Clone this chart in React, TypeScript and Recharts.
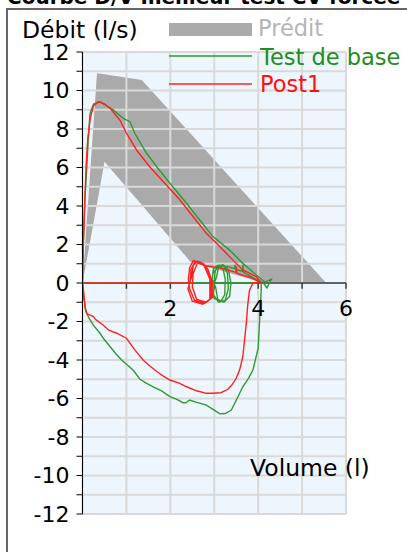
import React from "react";
import {
  ComposedChart,
  Area,
  Line,
  XAxis,
  YAxis,
  CartesianGrid,
  ReferenceLine,
  ReferenceDot,
  Legend,
} from "recharts";

const FONT = "DejaVu Sans";

// predicted zone: volume (l) with [lower, upper] flow (l/s)
const predVol = [0, 0.33, 0.5, 1.35, 2.46, 4.05, 5.55];
const predLow = [0, 4.1, 6.3, 4.05, 1.1, 0.05, 0];
const predHigh = [0, 10.9, 10.85, 10.55, 7.76, 3.77, 0];

// Test de base (green), [volume, flow]
const baseTidal = [
  [0, 0], [4.0, 0], [3.0, 0], [3.02, 0.6], [3.1, 0.92], [3.22, 0.9], [3.3, 0.5], [3.32, -0.3],
  [3.25, -0.9], [3.1, -1.0], [2.98, -0.6], [3.0, 0], [3.05, 0.3], [3.1, 0.85], [3.2, 0.95],
  [3.32, 0.7], [3.38, 0], [3.35, -0.7], [3.22, -1.0], [3.08, -0.85], [3.03, -0.2], [2.95, 0.2],
  [2.98, 0.75], [3.08, 0.9], [3.2, 0.75], [3.25, 0.2], [3.24, -0.6], [3.15, -0.95], [3.0, -0.8],
  [2.93, -0.2], [2.97, 0.5], [3.1, 0.9],
];
const baseSlow = [
  [3.3, 0.85], [3.47, 0.75], [3.47, 0.95], [3.5, 0.7], [3.65, 0.6], [3.65, 0.94], [3.67, 0.55],
  [3.9, 0.25], [4.07, 0.05],
];
const baseInsp = [
  [4.07, -0.36], [4.05, -1.2], [4.03, -2.1], [4.0, -3.39], [3.88, -4.52], [3.78, -4.95],
  [3.65, -5.39], [3.52, -6.0], [3.39, -6.6], [3.25, -6.78], [3.13, -6.8], [3.0, -6.6],
  [2.82, -6.34], [2.6, -6.2], [2.44, -6.08], [2.35, -6.22], [2.29, -6.22], [2.15, -6.05],
  [1.99, -5.9], [1.8, -5.6], [1.61, -5.39], [1.45, -5.2], [1.31, -5.0], [1.15, -4.52],
  [0.89, -4.0], [0.75, -3.65], [0.63, -3.31], [0.5, -2.95], [0.4, -2.61], [0.25, -2.2],
  [0.15, -1.83], [0.08, -1.5], [0.03, -0.8], [0, 0],
];
const baseExp = [
  [0.02, 2.2], [0.05, 4.2], [0.095, 5.87], [0.13, 7.4], [0.17, 8.8], [0.25, 9.3], [0.4, 9.42],
  [0.55, 9.2], [0.7, 8.99], [0.93, 8.55], [1.08, 8.38], [1.19, 7.78], [1.46, 6.74], [1.69, 6.04],
  [1.99, 5.18], [2.37, 4.14], [2.67, 3.27], [2.97, 2.41], [3.35, 1.71], [3.65, 1.02],
  [3.96, 0.42], [4.15, 0.05], [4.3, 0.2], [4.2, -0.25], [4.12, 0],
];

// Post1 (red)
const postTidal = [
  [0, 0], [2.45, 0], [2.47, 0.7], [2.56, 1.1], [2.72, 1.05], [2.8, 0.8], [2.92, 0.2], [2.93, -0.8],
  [2.78, -1.05], [2.55, -0.9], [2.44, -0.3], [2.41, 0.2], [2.44, 0.8], [2.52, 1.15], [2.68, 1.1],
  [2.78, 0.85], [2.9, 0.2], [2.9, -0.85], [2.74, -1.1], [2.5, -0.95], [2.4, -0.3], [2.48, 0.3],
  [2.52, 0.9], [2.6, 1.12], [2.76, 1.0], [2.86, 0.7], [2.95, 0.1], [2.96, -0.75], [2.82, -1.0],
  [2.6, -0.85], [2.5, -0.2], [2.52, 0.5], [2.62, 1.05], [2.82, 0.88],
];
const postSlow = [
  [3.1, 0.8], [3.5, 0.55], [3.5, 0.85], [3.52, 0.5], [3.8, 0.3], [4.05, 0.05], [3.88, 0],
];
const postInsp = [
  [3.8, -0.4], [3.76, -1.2], [3.73, -2.1], [3.69, -2.96], [3.65, -3.83], [3.58, -4.5],
  [3.5, -4.95], [3.4, -5.3], [3.31, -5.52], [3.15, -5.7], [2.97, -5.73], [2.82, -5.73],
  [2.6, -5.6], [2.37, -5.39], [2.2, -5.2], [1.99, -5.04], [1.85, -4.85], [1.69, -4.6],
  [1.5, -4.25], [1.38, -4.0], [1.2, -3.5], [1.0, -2.87], [0.78, -2.61], [0.6, -2.45],
  [0.47, -2.18], [0.3, -1.9], [0.25, -1.75], [0.1, -1.6], [0.06, -1.3], [0.02, -0.3], [0, 0],
];
const postExp = [
  [0.02, 2.0], [0.05, 4.0], [0.08, 6.0], [0.12, 7.5], [0.18, 8.6], [0.25, 9.2], [0.36, 9.42],
  [0.5, 9.3], [0.63, 9.07], [0.85, 8.47], [1.0, 7.78], [1.23, 6.91], [1.53, 6.04], [1.91, 5.09],
  [2.22, 4.31], [2.52, 3.44], [2.82, 2.58], [3.05, 2.06], [3.35, 1.37], [3.65, 0.68],
  [3.96, 0.33], [4.05, 0.05],
];

const xTicks = [1, 2, 3, 4, 5, 6];
const xLabels = [2, 4, 6];
const yTicks = Array.from({ length: 25 }, (_, i) => i - 12);
const xGrid = [0, 1, 2, 3, 4, 5, 6];

const predData = predVol.map((v, i) => ({ v, range: [predLow[i], predHigh[i]] }));
const toPts = (...parts: number[][][]) =>
  parts.flat().map(([v, q]) => ({ v, q }));
const baseData = toPts(baseTidal, baseSlow, baseInsp, baseExp);
const postData = toPts(postTidal, postSlow, postInsp, postExp);

const GREEN = "#2f9a2f";
const RED = "#ff2020";

function LegendBox() {
  return (
    <svg width={240} height={90} style={{ overflow: "visible" }}>
      <rect x={1} y={9} width={83} height={13} fill="#aaaaaa" />
      <text x={90} y={22} fontFamily={FONT} fontSize={22.5} fill="#b4b4b4">
        Prédit
      </text>
      <line x1={1} x2={84} y1={42} y2={42} stroke={GREEN} strokeWidth={1.5} />
      <text x={92} y={51} fontFamily={FONT} fontSize={22.5} fill="#1f8c1f">
        Test de base
      </text>
      <line x1={1} x2={84} y1={70} y2={70} stroke={RED} strokeWidth={1.5} />
      <text x={92} y={78} fontFamily={FONT} fontSize={22.5} fill="#ff1010">
        Post1
      </text>
    </svg>
  );
}

export default function App() {
  return (
    <div style={{ position: "absolute", left: 0, top: 0, width: 407, height: 552, background: "#fff", overflow: "hidden" }}>
      <ComposedChart
        width={407}
        height={552}
        data={predData}
        margin={{ top: 52, right: 61, bottom: 38, left: 0 }}
      >
        <CartesianGrid
          horizontal={false}
          vertical={false}
          fill="#eef6fd"
          fillOpacity={1}
        />
        <XAxis dataKey="v" type="number" domain={[0, 6]} hide allowDataOverflow />
        <YAxis
          type="number"
          domain={[-12, 12]}
          ticks={yTicks}
          interval={0}
          width={82.5}
          tickSize={6}
          tickMargin={7}
          tickFormatter={(t: number) => (t % 2 === 0 ? String(t) : "")}
          tick={{ fill: "#000", fontSize: 22, fontFamily: FONT }}
          axisLine={{ stroke: "#000" }}
          tickLine={{ stroke: "#000" }}
          allowDataOverflow
        />
        <Area
          dataKey="range"
          stroke="none"
          fill="#aaaaaa"
          fillOpacity={1}
          isAnimationActive={false}
          type="linear"
        />
        <CartesianGrid
          horizontalValues={yTicks}
          verticalValues={xGrid}
          stroke="#d9d9d9"
          strokeWidth={2}
          zIndex={200}
        />
        <ReferenceLine y={0} stroke="#3a3a3a" strokeWidth={1.5} />
        {xTicks.map((t) => (
          <ReferenceLine
            key={"t" + t}
            segment={[{ x: t, y: 0 }, { x: t, y: -0.3 }]}
            stroke="#3a3a3a"
            strokeWidth={1.5}
          />
        ))}
        {xLabels.map((t) => (
          <ReferenceDot
            key={"l" + t}
            x={t}
            y={0}
            r={0}
            fill="none"
            stroke="none"
            label={{ value: String(t), position: "bottom", offset: 17, fill: "#000", fontSize: 22, fontFamily: FONT }}
          />
        ))}
        <Line
          data={baseData}
          dataKey="q"
          stroke={GREEN}
          strokeWidth={1.4}
          dot={false}
          type="linear"
          isAnimationActive={false}
        />
        <Line
          data={postData}
          dataKey="q"
          stroke={RED}
          strokeWidth={1.4}
          dot={false}
          type="linear"
          isAnimationActive={false}
        />
        <Legend
          layout="vertical"
          align="center"
          verticalAlign="middle"
          wrapperStyle={{ left: 168, top: 14, width: 240 }}
          content={() => <LegendBox />}
        />
      </ComposedChart>
      <svg
        width={407}
        height={552}
        style={{ position: "absolute", left: 0, top: 0, pointerEvents: "none" }}
      >
        <text x={7} y={4} fontFamily={FONT} fontWeight="bold" fontSize={20} fill="#000">
          Courbe D/V meilleur test CV forcée
        </text>
        <path d="M7 552 V9 H407" fill="none" stroke="#666" strokeWidth={2} />
        <text x={22} y={38} fontFamily={FONT} fontSize={23.5} fill="#000">
          Débit (l/s)
        </text>
        <text x={250} y={476} fontFamily={FONT} fontSize={23.5} fill="#000">
          Volume (l)
        </text>
      </svg>
    </div>
  );
}
